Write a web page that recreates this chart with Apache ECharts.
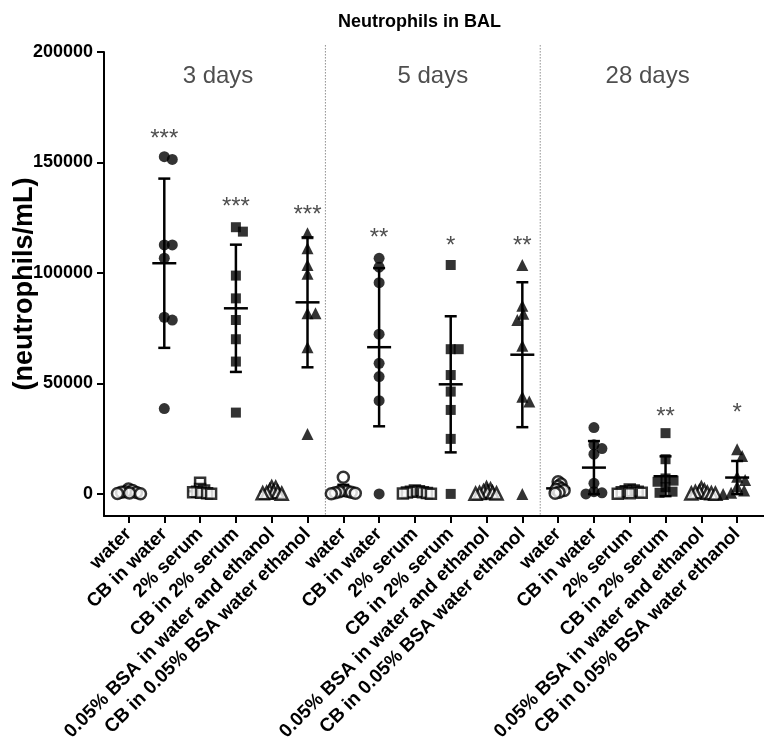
<!DOCTYPE html>
<html><head><meta charset="utf-8">
<script src="https://cdn.jsdelivr.net/npm/echarts@6/dist/echarts.min.js"></script>
<style>html,body{margin:0;padding:0;background:#fff}#c{width:764px;height:748px}</style>
</head><body><div id="c"></div>
<script>
// ---------- data ----------
const treatments = ['water','CB in water','2% serum','CB in 2% serum','0.05% BSA in water and ethanol','CB in 0.05% BSA water ethanol'];
const groupLabels = ['3 days','5 days','28 days'];
const yTicks = [0, 50000, 100000, 150000, 200000];

// 3 days
const d3_water    = [2200, 1500, 1000, 800, 600, 400, 200, 100];
const d3_cbWater  = [152600, 151400, 112700, 112700, 106650, 79950, 78700, 38600];
const d3_serum    = [5000, 2200, 1500, 1000, 800, 500, 300, 100];
const d3_cbSerum  = [120700, 118700, 98800, 88500, 78700, 70000, 59900, 36800];
const d3_bsa      = [3000, 2800, 1500, 1000, 800, 500, 300, 100];
const d3_cbBsa    = [118000, 111200, 103600, 99600, 81800, 81800, 66400, 27150];
// 5 days
const d5_water    = [7500, 1500, 1200, 1000, 800, 500, 300, 100];
const d5_cbWater  = [106600, 102600, 95600, 72300, 59100, 53100, 42200, 0];
const d5_serum    = [1500, 1200, 1000, 800, 600, 400, 200, 100];
const d5_cbSerum  = [103600, 65500, 65500, 53800, 46300, 38000, 24900, 0];
const d5_bsa      = [2500, 2000, 1200, 800, 600, 400, 200, 100];
const d5_cbBsa    = [103600, 85100, 81500, 78700, 67000, 44000, 41800, 0];
// 28 days
const d28_water   = [5500, 4500, 3500, 2500, 2000, 1500, 800, 300];
const d28_cbWater = [30000, 22200, 20500, 18000, 4800, 1000, 500, 0];
const d28_serum   = [2000, 1500, 1200, 1000, 800, 500, 300, 100];
const d28_cbSerum = [27500, 15700, 7000, 6000, 5500, 3000, 1000, 500];
const d28_bsa     = [2500, 1500, 1000, 800, 500, 300, 200, 100];
const d28_cbBsa   = [20200, 17200, 7800, 6300, 3300, 1500, 500, 0];

// mean and SD as drawn
const means = [800, 104400, 1200, 84000, 1000, 86700,
               1700, 66400, 700, 49600, 500, 63000,
               2500, 11900, 800, 8000, 500, 7400];
const sds   = [600, 38300, 1000, 28800, 800, 29400,
               2400, 35800, 500, 30800, 400, 32800,
               1800, 12000, 600, 9000, 500, 7500];

// significance annotations
const stars      = ['', '***', '', '***', '', '***',  '', '**', '', '*', '', '**',  '', '', '', '**', '', '*'];
const starLevels = [0, 163400, 0, 133000, 0, 129400,  0, 118700, 0, 115400, 0, 115400,  0, 0, 0, 38000, 0, 39800];
const groupLabelLevel = 189100;

// ---------- build ----------
const groups = [d3_water, d3_cbWater, d3_serum, d3_cbSerum, d3_bsa, d3_cbBsa,
                d5_water, d5_cbWater, d5_serum, d5_cbSerum, d5_bsa, d5_cbBsa,
                d28_water, d28_cbWater, d28_serum, d28_cbSerum, d28_bsa, d28_cbBsa];
const categories = [].concat(treatments, treatments, treatments);

const X_MIN = -0.684, X_MAX = 17.75, Y_MIN = -10000, Y_MAX = 200000;
const GRID = {left: 104, right: 0, top: 52, bottom: 232};
const plotW = 764 - GRID.left - GRID.right, plotH = 748 - GRID.top - GRID.bottom;
const pxX = plotW / (X_MAX - X_MIN), pxY = plotH / (Y_MAX - Y_MIN);

const shapes = ['circle', 'rect', 'triangle'];
function swarm(vals, D) {
  const placed = [];
  return vals.map(v => {
    const py = v * pxY;
    let off = 0;
    for (let k = 0; k < 80; k++) {
      const cand = k === 0 ? 0 : (k % 2 ? (k + 1) / 2 : -k / 2);
      const ok = placed.every(p => {
        const dx = cand - p.x, dy = py - p.y;
        return dx * dx + dy * dy >= D * D;
      });
      if (ok) { off = cand; break; }
    }
    placed.push({x: off, y: py});
    return off / pxX;
  });
}

const points = [];
groups.forEach((vals, i) => {
  const shape = shapes[Math.floor((i % 6) / 2)];
  const open = i % 2 === 0;
  const offs = swarm(vals, open ? 3.6 : 8);
  vals.forEach((v, j) => {
    points.push({
      value: [i + offs[j], v],
      symbol: shape,
      symbolSize: shape === 'rect' ? 10 : shape === 'triangle' ? 12 : 11,
      itemStyle: open ? {color: '#fff', borderColor: '#000', borderWidth: 2.5}
                      : {color: '#000', borderColor: '#000', borderWidth: 0}
    });
  });
});

const errData = means.map((m, i) => [i, m, sds[i]]);
const starData = stars.map((s, i) => ({value: [i, starLevels[i]], name: s})).filter(d => d.name);
const groupLabelData = groupLabels.map((g, k) => ({value: [k * 6 + 2.5, groupLabelLevel], name: g}));
const separators = groupLabels.slice(1).map((g, k) => [(k + 1) * 6 - 0.5]);

const FONT = '"Liberation Sans", Arial, Helvetica, sans-serif';
const chart = echarts.init(document.getElementById('c'), null, {renderer: 'canvas'});
chart.setOption({
  backgroundColor: '#fff',
  animation: false,
  title: {
    text: 'Neutrophils in BAL', left: 333, top: 8,
    textStyle: {fontFamily: FONT, fontSize: 18, fontWeight: 'bold', color: '#000'}
  },
  grid: Object.assign({containLabel: false, outerBoundsMode: 'none'}, GRID),
  xAxis: {
    type: 'value', min: X_MIN, max: X_MAX,
    splitLine: {show: false},
    axisLine: {show: true, onZero: false, lineStyle: {color: '#000', width: 2}},
    axisTick: {show: true, customValues: categories.map((c, i) => i), length: 7, lineStyle: {color: '#000', width: 2}},
    axisLabel: {
      customValues: categories.map((c, i) => i),
      formatter: v => categories[Math.round(v)] || '',
      rotate: 45, margin: 15,
      fontFamily: FONT, fontSize: 19, fontWeight: 'bold', color: '#000'
    }
  },
  yAxis: {
    type: 'value', min: Y_MIN, max: Y_MAX,
    splitLine: {show: false},
    axisLine: {show: true, onZero: false, lineStyle: {color: '#000', width: 2}},
    axisTick: {show: true, customValues: yTicks, length: 7, lineStyle: {color: '#000', width: 2}},
    axisLabel: {
      customValues: yTicks, margin: 11,
      formatter: v => String(v),
      fontFamily: FONT, fontSize: 18, fontWeight: 'bold', color: '#000'
    },
    name: '(neutrophils/mL)', nameLocation: 'middle', nameGap: 66, nameMoveOverlap: false,
    nameTextStyle: {fontFamily: FONT, fontSize: 27, fontWeight: 'bold', color: '#000'}
  },
  series: [
    {
      type: 'custom', z: 1, silent: true, clip: false,
      data: separators,
      renderItem: (params, api) => {
        const x = api.value(0);
        const t = api.coord([x, 203000]);
        const b = api.coord([x, Y_MIN]);
        return {type: 'line', shape: {x1: t[0], y1: t[1], x2: b[0], y2: b[1]},
                style: {stroke: '#555', lineWidth: 1, lineDash: [1, 2]}};
      }
    },
    {
      type: 'custom', z: 2, silent: true,
      data: errData,
      renderItem: (params, api) => {
        const i = api.value(0), m = api.value(1), s = api.value(2);
        const c = api.coord([i, m]);
        const t = api.coord([i, m + s]);
        const b = api.coord([i, Math.max(m - s, Y_MIN)]);
        const st = {stroke: '#000', lineWidth: 2.5};
        return {type: 'group', children: [
          {type: 'line', shape: {x1: c[0], y1: t[1], x2: c[0], y2: b[1]}, style: st},
          {type: 'line', shape: {x1: c[0] - 6, y1: t[1], x2: c[0] + 6, y2: t[1]}, style: st},
          {type: 'line', shape: {x1: c[0] - 6, y1: b[1], x2: c[0] + 6, y2: b[1]}, style: st},
          {type: 'line', shape: {x1: c[0] - 12, y1: c[1], x2: c[0] + 12, y2: c[1]}, style: st}
        ]};
      }
    },
    {
      type: 'scatter', z: 3, silent: true,
      data: points
    },
    {
      type: 'scatter', z: 4, silent: true, symbolSize: 0,
      data: starData,
      label: {show: true, formatter: p => p.name, position: 'inside', offset: [0, 7],
              fontFamily: FONT, fontSize: 24, color: '#222'}
    },
    {
      type: 'scatter', z: 4, silent: true, symbolSize: 0,
      data: groupLabelData,
      label: {show: true, formatter: p => p.name, position: 'inside',
              fontFamily: FONT, fontSize: 24, color: '#222'}
    }
  ]
});
</script>
</body></html>
